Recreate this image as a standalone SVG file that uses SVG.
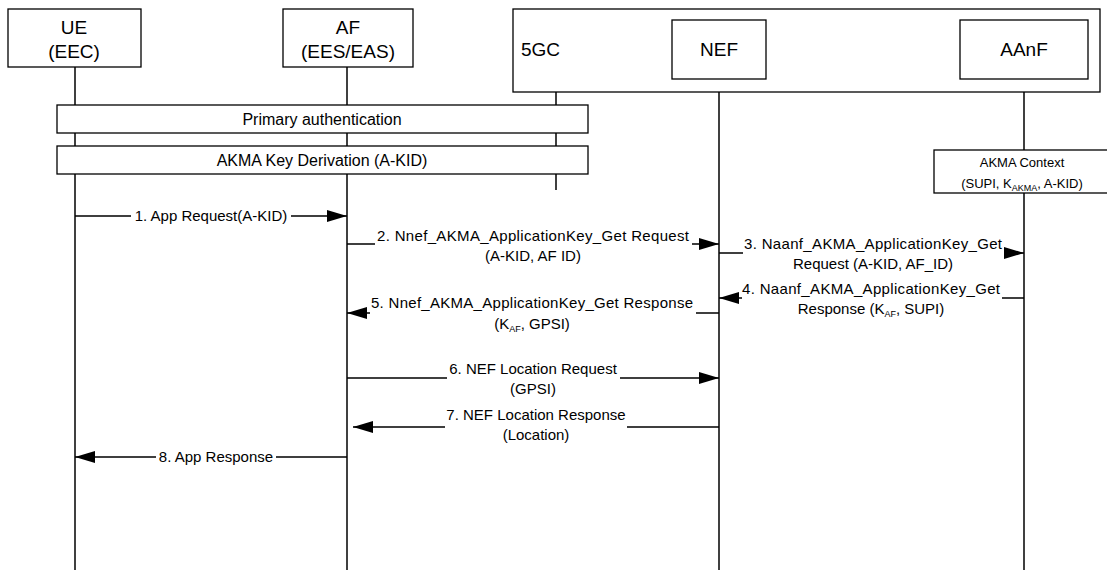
<svg xmlns="http://www.w3.org/2000/svg" width="1107" height="570" viewBox="0 0 1107 570">
<style>
.box{fill:#fff;stroke:#000;stroke-width:1.3}
.life{stroke:#000;stroke-width:1.5;fill:none}
.msg{stroke:#000;stroke-width:1.5;fill:none;marker-end:url(#ah)}
.hd{font-family:"Liberation Sans",Arial,sans-serif;font-size:19px;text-anchor:middle;fill:#000}
.bt{font-family:"Liberation Sans",Arial,sans-serif;font-size:16px;text-anchor:middle;fill:#000}
.ml{font-family:"Liberation Sans",Arial,sans-serif;font-size:15px;text-anchor:middle;fill:#000}
.ct{font-family:"Liberation Sans",Arial,sans-serif;font-size:13px;text-anchor:middle;fill:#000}
.sub{font-size:9px}
</style>
<defs>
<marker id="ah" markerUnits="userSpaceOnUse" markerWidth="22" markerHeight="14" refX="20" refY="6" orient="auto">
<path d="M0,0 L20,6 L0,12 Z" fill="#000"/>
</marker>
</defs>
<g id="lifelines">
<line class="life" x1="75" y1="67" x2="75" y2="570"/>
<line class="life" x1="347" y1="67" x2="347" y2="570"/>
<line class="life" x1="556" y1="92" x2="556" y2="190"/>
<line class="life" x1="719" y1="79" x2="719" y2="570"/>
<line class="life" x1="1024" y1="79" x2="1024" y2="570"/>
</g>
<g id="ue"><rect class="box" x="8" y="9" width="133" height="58"/><text class="hd" x="74" y="34">UE</text><text class="hd" x="74" y="58">(EEC)</text></g>
<g id="af"><rect class="box" x="283" y="9" width="130" height="58"/><text class="hd" x="348" y="34">AF</text><text class="hd" x="348" y="58">(EES/EAS)</text></g>
<g id="fivegc"><rect class="box" x="513" y="9" width="587" height="83"/><text class="hd" x="521" y="56" style="text-anchor:start">5GC</text></g>
<g id="nef"><rect class="box" x="672" y="20" width="94" height="59"/><text class="hd" x="719" y="56">NEF</text></g>
<g id="aanf"><rect class="box" x="960" y="20" width="128" height="59"/><text class="hd" x="1024" y="56">AAnF</text></g>
<g id="primary-auth"><rect class="box" x="57" y="105" width="531" height="28"/><text class="bt" x="322" y="125">Primary authentication</text></g>
<g id="akma-key"><rect class="box" x="57" y="146" width="531" height="28"/><text class="bt" x="322" y="166">AKMA Key Derivation (A-KID)</text></g>
<g id="akma-context"><rect class="box" x="934" y="150" width="180" height="43"/><text class="ct" x="1022" y="167">AKMA Context</text><text class="ct" x="1022" y="188">(SUPI, K<tspan class="sub" dy="3">AKMA</tspan><tspan dy="-3">, A-KID)</tspan></text></g>
<g id="connectors">
<path class="msg" d="M75,216 H131 M291,216 H347"/>
<text class="ml" x="211" y="221">1. App Request(A-KID)</text>
<path class="msg" d="M347,244 H375 M692,244 H719"/>
<text class="ml" x="533" y="241" textLength="312" lengthAdjust="spacing">2. Nnef_AKMA_ApplicationKey_Get Request</text>
<text class="ml" x="533" y="261">(A-KID, AF ID)</text>
<path class="msg" d="M719,253 H743 M1004,253 H1024"/>
<text class="ml" x="873" y="249" textLength="258" lengthAdjust="spacing">3. Naanf_AKMA_ApplicationKey_Get</text>
<text class="ml" x="873" y="269">Request (A-KID, AF_ID)</text>
<path class="msg" d="M1024,298 H1002 M742,298 H719"/>
<text class="ml" x="871" y="294" textLength="258" lengthAdjust="spacing">4. Naanf_AKMA_ApplicationKey_Get</text>
<text class="ml" x="871" y="314">Response (K<tspan class="sub" dy="3">AF</tspan><tspan dy="-3">, SUPI)</tspan></text>
<path class="msg" d="M719,313 H696 M370,313 H347"/>
<text class="ml" x="532" y="308" textLength="322" lengthAdjust="spacing">5. Nnef_AKMA_ApplicationKey_Get Response</text>
<text class="ml" x="532" y="329">(K<tspan class="sub" dy="3">AF</tspan><tspan dy="-3">, GPSI)</tspan></text>
<path class="msg" d="M347,378 H447 M620,378 H719"/>
<text class="ml" x="533" y="374">6. NEF Location Request</text>
<text class="ml" x="533" y="394">(GPSI)</text>
<path class="msg" d="M719,427 H627 M445,427 H353"/>
<text class="ml" x="536" y="420">7. NEF Location Response</text>
<text class="ml" x="536" y="440">(Location)</text>
<path class="msg" d="M347,457 H276 M156,457 H75"/>
<text class="ml" x="216" y="462">8. App Response</text>
</g>
</svg>
